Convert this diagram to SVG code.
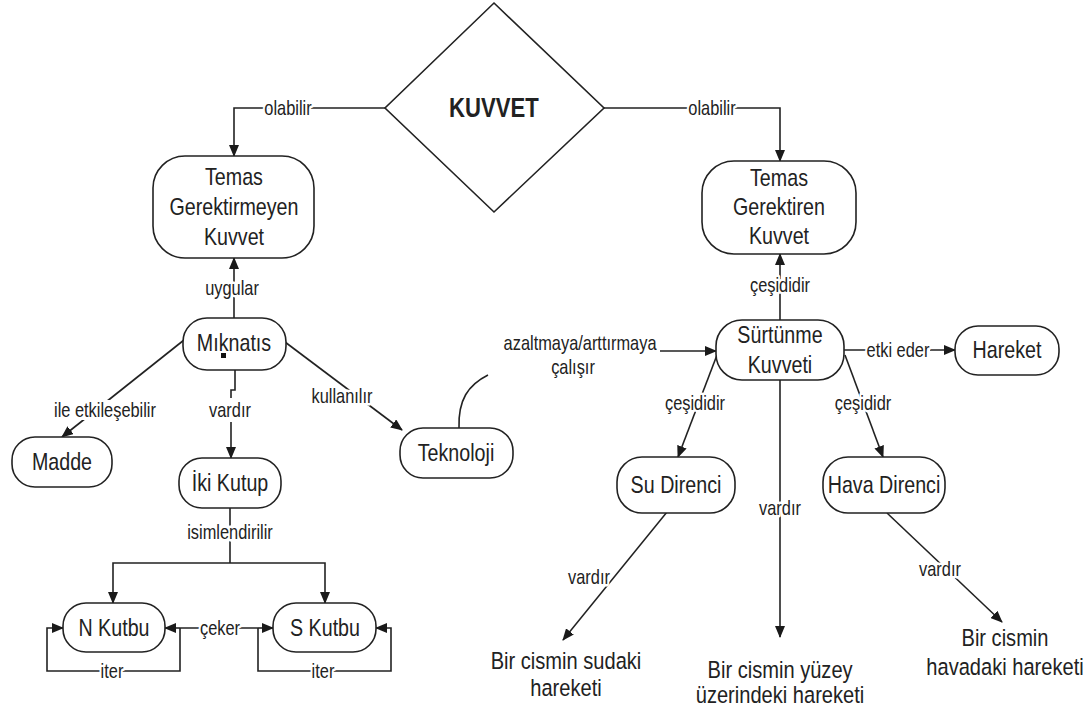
<svg xmlns="http://www.w3.org/2000/svg" width="1089" height="715" viewBox="0 0 1089 715">
<defs>
<marker id="ah" markerUnits="userSpaceOnUse" markerWidth="12" markerHeight="10" refX="11" refY="5" orient="auto-start-reverse">
<path d="M0,0 L12,5 L0,10 Z" fill="#1a1a1a"/>
</marker>
<style>
.n{fill:#fff;stroke:#222;stroke-width:1.6}
.t,.l{font-family:"Liberation Sans",Arial,sans-serif;fill:#222;text-anchor:middle;dominant-baseline:central;transform-box:fill-box;transform-origin:center;transform:scaleX(0.82)}
.t{font-size:24px}
.l{font-size:20px;paint-order:stroke;stroke:#fff;stroke-width:5px;stroke-linejoin:round}
.f{font-size:24.5px}
.e{fill:none;stroke:#222;stroke-width:1.6}
.a{marker-end:url(#ah)}
.b{font-weight:bold;font-size:27px}
.w{fill:#fff}
</style>
</defs>
<rect width="1089" height="715" fill="#fff"/>
<g id="connectors">
<path class="e a" d="M385 108 H234 V156"/>
<path class="e a" d="M604 108 H780 V161"/>
<path class="e a" d="M234 318 V258"/>
<path class="e a" d="M780 320 V254"/>
<path class="e a" d="M184 340 L62 437"/>
<path class="e a" d="M285 342 L402 430"/>
<path class="e" d="M235 370 V390 H231 V398"/>
<path class="e a" d="M231 422 V458"/>
<path class="e" d="M230 508 V563"/>
<path class="e a" d="M230 563 H113 V603"/>
<path class="e a" d="M230 563 H325 V603"/>
<path class="e" d="M180 628 H258"/>
<path class="e a" d="M180 628 H165"/>
<path class="e a" d="M258 628 H273"/>
<path class="e a" d="M180 628 V671 H47 V628 H63"/>
<path class="e a" d="M258 628 V671 H391 V628 H376"/>
<path class="e" d="M459 428 C458 400 468 385 488 375"/>
<path class="e a" d="M660 351 H716"/>
<path class="e a" d="M844 350 H955"/>
<path class="e a" d="M717 355 L678 457"/>
<path class="e a" d="M845 355 L883 457"/>
<path class="e a" d="M780 380 V637"/>
<path class="e a" d="M667 512 L563 640"/>
<path class="e a" d="M887 513 L1002 622"/>
<rect class="w" x="866" y="340" width="64" height="20"/>
<rect class="w" x="58" y="400" width="94" height="20"/>
<text class="l" x="288" y="108">olabilir</text>
<text class="l" x="712" y="108">olabilir</text>
<text class="l" x="232" y="288">uygular</text>
<text class="l" x="780" y="285">çeşididir</text>
<text class="l" x="105" y="410">ile etkileşebilir</text>
<text class="l" x="230" y="410">vardır</text>
<text class="l" x="342" y="396">kullanılır</text>
<text class="l" x="230" y="532">isimlendirilir</text>
<text class="l" x="220" y="628">çeker</text>
<text class="l" x="112" y="671">iter</text>
<text class="l" x="323" y="671">iter</text>
<text class="l" x="580" y="343">azaltmaya/arttırmaya</text>
<text class="l" x="573" y="367">çalışır</text>
<text class="l" x="898" y="350">etki eder</text>
<text class="l" x="695" y="403">çeşididir</text>
<text class="l" x="863" y="403">çeşididr</text>
<text class="l" x="780" y="508">vardır</text>
<text class="l" x="589" y="577">vardır</text>
<text class="l" x="940" y="569">vardır</text>
</g>
<g id="kuvvet">
<polygon class="n" points="494,3 604,108 494,212 385,108"/>
<text class="t b" x="494" y="108">KUVVET</text>
</g>
<g id="temas-gerektirmeyen">
<rect class="n" x="153" y="156" width="161" height="102" rx="32"/>
<text class="t" x="234" y="177">Temas</text>
<text class="t" x="234" y="207">Gerektirmeyen</text>
<text class="t" x="234" y="237">Kuvvet</text>
</g>
<g id="temas-gerektiren">
<rect class="n" x="702" y="161" width="154" height="93" rx="32"/>
<text class="t" x="779" y="178">Temas</text>
<text class="t" x="779" y="207">Gerektiren</text>
<text class="t" x="779" y="236">Kuvvet</text>
</g>
<g id="miknatis">
<rect class="n" x="183" y="318" width="103" height="52" rx="24"/>
<text class="t" x="234" y="343">Mıknatıs</text>
<rect x="221" y="353" width="5" height="5" fill="#111"/>
</g>
<g id="madde">
<rect class="n" x="12" y="437" width="100" height="50" rx="23"/>
<text class="t" x="62" y="462">Madde</text>
</g>
<g id="iki-kutup">
<rect class="n" x="179" y="458" width="102" height="50" rx="23"/>
<text class="t" x="230" y="483">İki Kutup</text>
</g>
<g id="teknoloji">
<rect class="n" x="400" y="428" width="113" height="50" rx="23"/>
<text class="t" x="456" y="453">Teknoloji</text>
</g>
<g id="n-kutbu">
<rect class="n" x="63" y="603" width="102" height="49" rx="23"/>
<text class="t" x="114" y="628">N Kutbu</text>
</g>
<g id="s-kutbu">
<rect class="n" x="273" y="603" width="103" height="49" rx="23"/>
<text class="t" x="325" y="628">S Kutbu</text>
</g>
<g id="surtunme">
<rect class="n" x="716" y="320" width="128" height="60" rx="26"/>
<text class="t" x="780" y="335">Sürtünme</text>
<text class="t" x="780" y="365">Kuvveti</text>
</g>
<g id="hareket">
<rect class="n" x="955" y="326" width="104" height="49" rx="23"/>
<text class="t" x="1007" y="350">Hareket</text>
</g>
<g id="su-direnci">
<rect class="n" x="617" y="457" width="118" height="56" rx="25"/>
<text class="t" x="676" y="485">Su Direnci</text>
</g>
<g id="hava-direnci">
<rect class="n" x="823" y="457" width="122" height="56" rx="25"/>
<text class="t" x="884" y="485">Hava Direnci</text>
</g>
<g id="sudaki">
<text class="t f" x="566" y="661">Bir cismin sudaki</text>
<text class="t f" x="566" y="688">hareketi</text>
</g>
<g id="yuzey">
<text class="t f" x="780" y="670">Bir cismin yüzey</text>
<text class="t f" x="780" y="695">üzerindeki hareketi</text>
</g>
<g id="havadaki">
<text class="t f" x="1005" y="638">Bir cismin</text>
<text class="t f" x="1005" y="667">havadaki hareketi</text>
</g>
</svg>
